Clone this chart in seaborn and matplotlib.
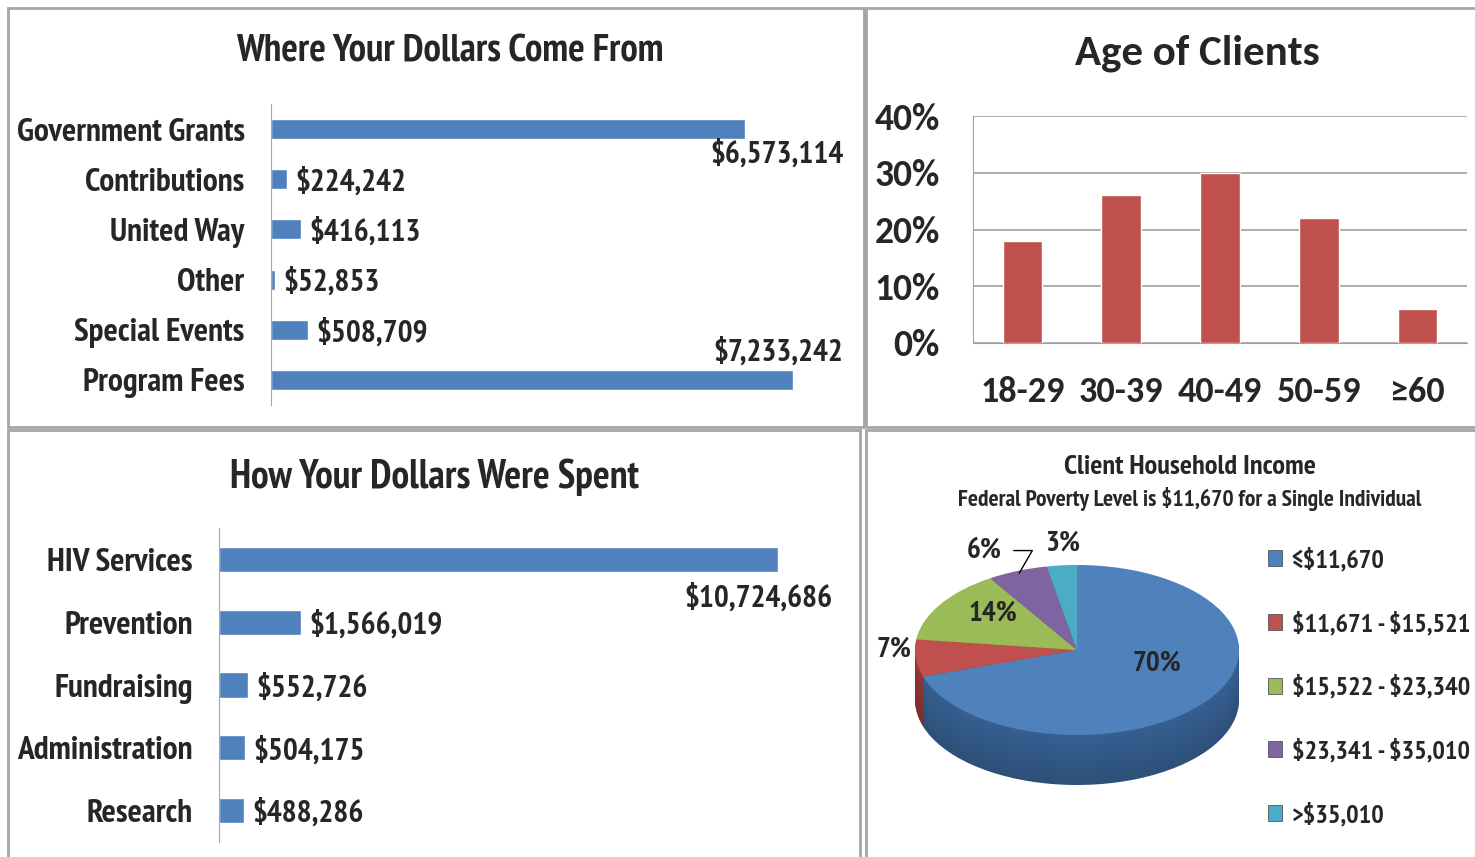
import matplotlib
matplotlib.use('Agg')
import matplotlib.pyplot as plt
import seaborn as sns
import pandas as pd
import numpy as np
import colorsys
from matplotlib import font_manager as fm
from matplotlib.patches import Rectangle
from matplotlib.transforms import blended_transform_factory

sns.set_style('white')
plt.rcParams['text.parse_math'] = False


def pick(cands):
    # first family that has a bold face installed
    for c in cands:
        for f in fm.fontManager.ttflist:
            if f.name == c and f.weight in (700, 'bold', '700'):
                return c
    return 'DejaVu Sans'


NARROW = pick(['PT Sans Narrow', 'Fira Sans Condensed', 'Roboto Condensed',
               'Archivo Narrow', 'Liberation Sans Narrow', 'Liberation Sans'])
WIDE = pick(['Carlito', 'Lato', 'Open Sans'])
plt.rcParams['font.family'] = [NARROW, 'DejaVu Sans']

# ---------------------------------------------------------
# data
# ---------------------------------------------------------
income_sources = ['Government Grants', 'Contributions', 'United Way', 'Other',
                  'Special Events', 'Program Fees']
income_values = [6573114, 224242, 416113, 52853, 508709, 7233242]

spend_cats = ['HIV Services', 'Prevention', 'Fundraising', 'Administration', 'Research']
spend_values = [10724686, 1566019, 552726, 504175, 488286]

age_groups = ['18-29', '30-39', '40-49', '50-59', '\u226560']
age_share = [18, 26, 30, 22, 6]
age_ticks = [0, 10, 20, 30, 40]

income_bands = ['\u2264$11,670', '$11,671 - $15,521', '$15,522 - $23,340',
                '$23,341 - $35,010', '>$35,010']
income_pct = [70, 7, 14, 6, 3]

BLUE = '#4F81BD'
RED = '#C0504D'
pie_colors = ['#4F81BD', '#C0504D', '#9BBB59', '#8064A2', '#4BACC6']
BORDER = '#A6A6A6'

W, H = 1475, 857
fig = plt.figure(figsize=(W / 100, H / 100), dpi=100)


def box(x0, y0, x1, y1):
    return fig.add_axes([x0 / W, 1 - y1 / H, (x1 - x0) / W, (y1 - y0) / H])


def fmt_money(v):
    return f'${v:,.0f}'


def shade(c, f):
    r, g, b = matplotlib.colors.to_rgb(c)
    h, l, s = colorsys.rgb_to_hls(r, g, b)
    return colorsys.hls_to_rgb(h, l * f, s)


# panel borders
for x0, y0, x1, y1 in [(8, 8, 864, 427), (866, 8, 1480, 427),
                       (8, 430, 860, 862), (866, 430, 1480, 862)]:
    fig.patches.append(Rectangle((x0 / W, 1 - y1 / H), (x1 - x0) / W, (y1 - y0) / H,
                                 transform=fig.transFigure, fill=False,
                                 edgecolor=BORDER, lw=2))

# ---------------------------------------------------------
# 1. Where your dollars come from
# ---------------------------------------------------------
ax = box(271, 104, 848, 405)
df_in = pd.DataFrame({'source': income_sources, 'amount': income_values})
sns.barplot(data=df_in, x='amount', y='source', orient='h', color=BLUE,
            saturation=1, width=0.4, ax=ax)
ax.set_xlim(0, 8.0e6)
ax.set_xlabel('')
ax.set_ylabel('')
ax.set_xticks([])
for s in ['top', 'right', 'bottom']:
    ax.spines[s].set_visible(False)
ax.spines['left'].set_color(BORDER)
ax.tick_params(axis='y', length=0, pad=19, labelsize=24)
for t in ax.get_yticklabels():
    t.set_fontweight('bold')
tr = blended_transform_factory(ax.transAxes, ax.transData)
for i, v in enumerate(income_values):
    if v == max(income_values):
        ax.text(0.992, i - 0.55, fmt_money(v), transform=tr, ha='right', va='center',
                fontsize=22.5, fontweight='bold', clip_on=False)
    elif v > 3e6:
        ax.text(0.992, i + 0.5, fmt_money(v), transform=tr, ha='right', va='center',
                fontsize=22.5, fontweight='bold', clip_on=False)
    else:
        ax.annotate(fmt_money(v), (v, i), xytext=(6, -2), textcoords='offset points',
                    ha='left', va='center', fontsize=22.5, fontweight='bold')
fig.text(450 / W, 1 - 52 / H, 'Where Your Dollars Come From', ha='center', va='center',
         fontsize=28, fontweight='bold')

# ---------------------------------------------------------
# 2. Age of clients
# ---------------------------------------------------------
ax = box(973, 116, 1467, 343)
df_age = pd.DataFrame({'age': age_groups, 'share': age_share})
sns.barplot(data=df_age, x='age', y='share', color=RED, saturation=1, width=0.4,
            ax=ax, zorder=3)
ax.set_ylim(0, 40)
ax.set_xlim(-0.5, 4.5)
ax.set_yticks(age_ticks)
ax.set_yticklabels([f'{t}%' for t in age_ticks], fontfamily=WIDE, fontweight='bold',
                   fontsize=27)
ax.set_xticks(range(len(age_groups)))
ax.set_xticklabels(age_groups, fontfamily=WIDE, fontweight='bold', fontsize=26)
ax.set_xlabel('')
ax.set_ylabel('')
ax.grid(axis='y', color='#A0A0A0', lw=1.2, zorder=0)
ax.set_axisbelow(True)
for s in ['top', 'right']:
    ax.spines[s].set_visible(False)
for s in ['left', 'bottom']:
    ax.spines[s].set_color('#A0A0A0')
ax.tick_params(axis='y', length=0, pad=24)
ax.tick_params(axis='x', length=0, pad=24)
fig.text(1197 / W, 1 - 53 / H, 'Age of Clients', ha='center', va='center',
         fontsize=31, fontweight='bold', fontfamily=WIDE)

# ---------------------------------------------------------
# 3. How your dollars were spent
# ---------------------------------------------------------
ax = box(219, 528, 818, 842)
df_out = pd.DataFrame({'cat': spend_cats, 'amount': spend_values})
sns.barplot(data=df_out, x='amount', y='cat', orient='h', color=BLUE,
            saturation=1, width=0.4, ax=ax)
ax.set_xlim(0, 11.5e6)
ax.set_xlabel('')
ax.set_ylabel('')
ax.set_xticks([])
for s in ['top', 'right', 'bottom']:
    ax.spines[s].set_visible(False)
ax.spines['left'].set_color(BORDER)
ax.tick_params(axis='y', length=0, pad=19, labelsize=24)
for t in ax.get_yticklabels():
    t.set_fontweight('bold')
tr = blended_transform_factory(ax.transAxes, ax.transData)
for i, v in enumerate(spend_values):
    if v == max(spend_values):
        ax.text(1.025, i + 0.62, fmt_money(v), transform=tr, ha='right', va='center',
                fontsize=22.5, fontweight='bold', clip_on=False)
    else:
        ax.annotate(fmt_money(v), (v, i), xytext=(6, -2), textcoords='offset points',
                    ha='left', va='center', fontsize=22.5, fontweight='bold')
fig.text(434 / W, 1 - 477 / H, 'How Your Dollars Were Spent', ha='center', va='center',
         fontsize=28.5, fontweight='bold')

# ---------------------------------------------------------
# 4. Client household income (pseudo 3D pie)
# ---------------------------------------------------------
rx, ry, depth = 162, 85, 50
cx, cy = 1077, 650
ax = box(cx - rx, cy - ry, cx + rx, cy + ry + depth)
d = depth / ry
n_layers = 30
for k in range(n_layers, 0, -1):
    f = 0.62 + 0.12 * (1 - k / n_layers)
    ax.pie(income_pct, colors=[shade(c, f) for c in pie_colors], startangle=90,
           counterclock=False, center=(0, -d * k / n_layers),
           wedgeprops=dict(linewidth=0))
wedges, _ = ax.pie(income_pct, colors=pie_colors, startangle=90, counterclock=False,
                   wedgeprops=dict(linewidth=0))
ax.set_aspect('auto')
ax.set_xlim(-1, 1)
ax.set_ylim(-1 - d, 1)
ax.axis('off')

# label spots in pie units (x: half-width, y: half-height of the top face)
label_spots = [(0.49, -0.16), (-1.13, 0.0), (-0.52, 0.43), (-0.57, 1.17), (-0.09, 1.25)]
for w, p, (lx, ly) in zip(wedges, income_pct, label_spots):
    th = np.deg2rad((w.theta1 + w.theta2) / 2)
    if p == 6:
        ax.annotate(f'{p}%', (np.cos(th) * 0.97, np.sin(th) * 0.97), xytext=(lx, ly),
                    textcoords='data', ha='center', va='center', fontsize=21,
                    fontweight='bold', zorder=5,
                    arrowprops=dict(arrowstyle='-', color='black', lw=1.0,
                                    connectionstyle='angle,angleA=0,angleB=60,rad=0',
                                    shrinkA=6, shrinkB=0), annotation_clip=False)
    else:
        ax.text(lx, ly, f'{p}%', ha='center', va='center', fontsize=21,
                fontweight='bold', clip_on=False)

ax.legend(wedges, income_bands, loc='upper left',
          bbox_to_anchor=(1244 / W, 1 - 524 / H), bbox_transform=fig.transFigure,
          frameon=False, prop=dict(family=NARROW, weight='bold', size=19),
          handlelength=0.55, handleheight=0.55, handletextpad=0.35, labelspacing=1.49)
for h in ax.get_legend().legend_handles:
    h.set_edgecolor('#555555')
    h.set_linewidth(0.6)

fig.text(1190 / W, 1 - 467 / H, 'Client Household Income', ha='center', va='center',
         fontsize=20.4, fontweight='bold')
fig.text(1190 / W, 1 - 499 / H, 'Federal Poverty Level is $11,670 for a Single Individual',
         ha='center', va='center', fontsize=16.9, fontweight='bold')

fig.savefig('out.png', dpi=100)
